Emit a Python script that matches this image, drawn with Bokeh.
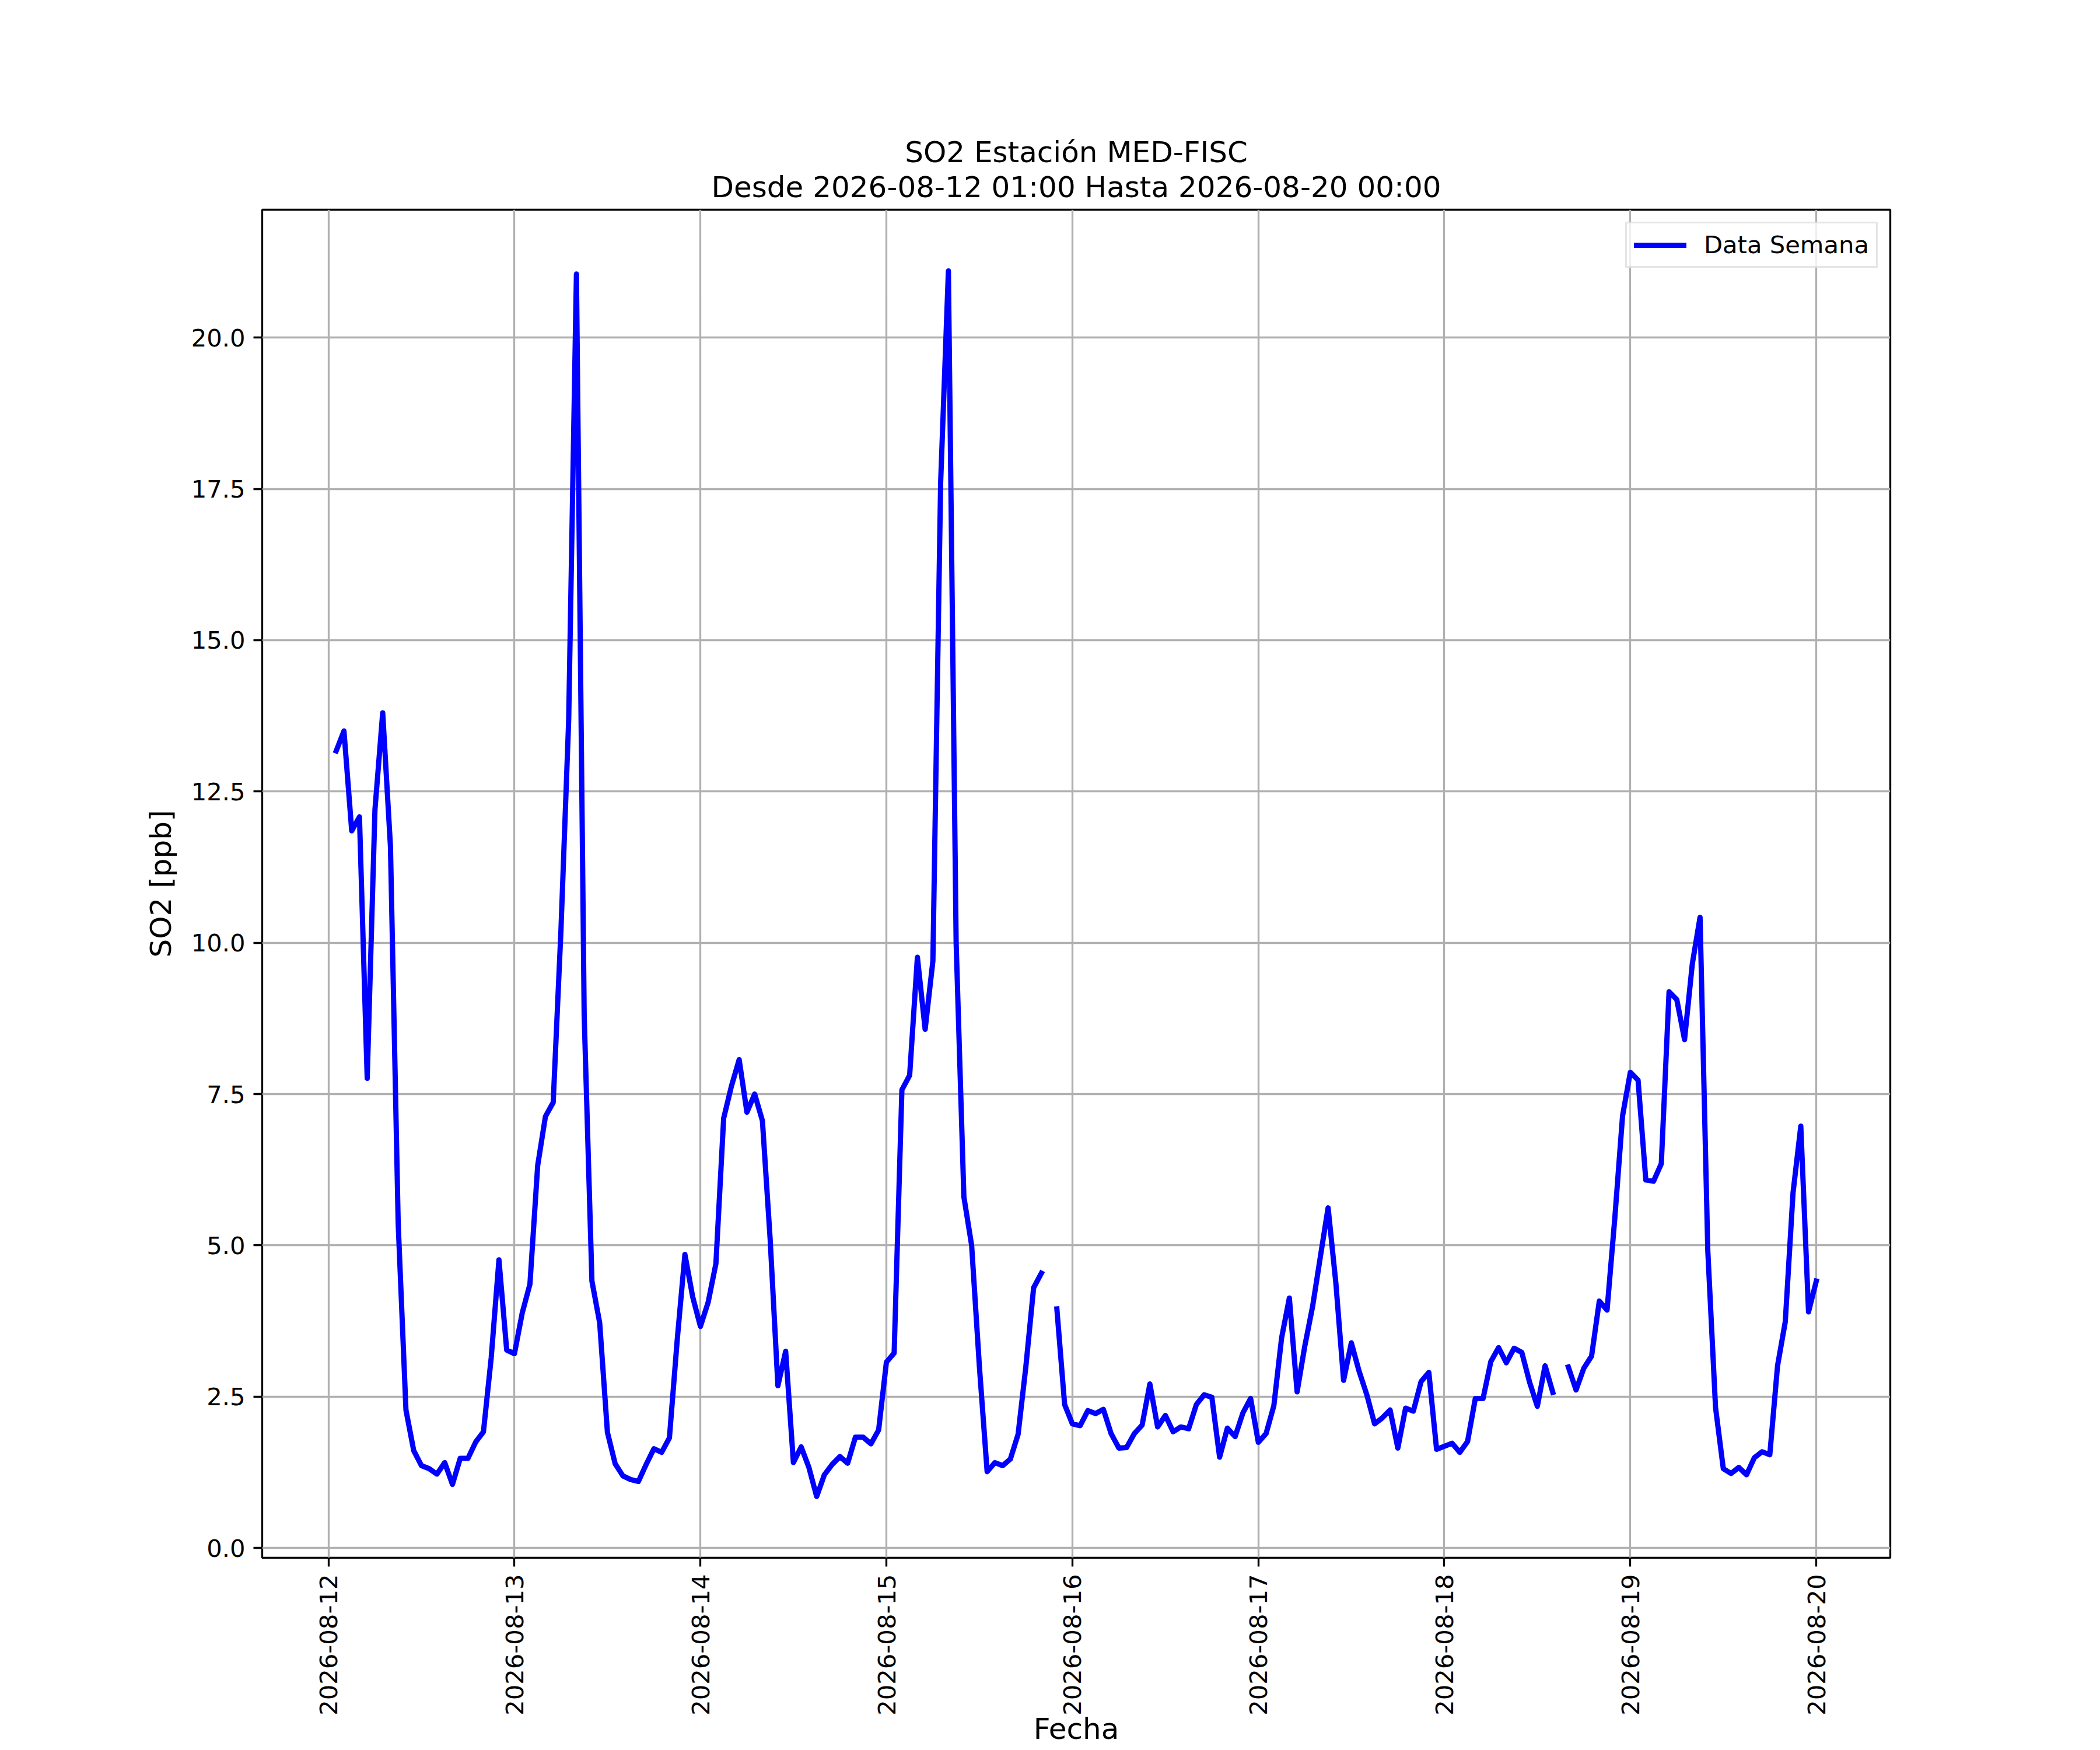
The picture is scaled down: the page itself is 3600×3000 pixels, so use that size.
import math
import numpy as np
import pandas as pd
from bokeh.plotting import figure
from bokeh.models import (FixedTicker, DatetimeTickFormatter, NumeralTickFormatter,
                          Range1d, Title)
from bokeh.embed import file_html
from bokeh.resources import INLINE

# ---- data: hourly SO2 [ppb], from 2026-08-12 01:00 to 2026-08-20 00:00 (None = missing) ----
start_time = "2026-08-12 01:00"
day1 = [13.17, 13.50, 11.85, 12.08, 7.76, 12.2, 13.80, 11.59, 5.35, 2.28, 1.61, 1.36,
        1.31, 1.22, 1.41, 1.05, 1.48, 1.48, 1.75, 1.92, 3.14, 4.76, 3.27, 3.21]
day2 = [3.88, 4.36, 6.32, 7.13, 7.36, 10.2, 13.68, 21.05, 8.8, 4.41, 3.72, 1.91,
        1.39, 1.19, 1.13, 1.10, 1.38, 1.64, 1.58, 1.82, 3.43, 4.85, 4.15, 3.66]
day3 = [4.06, 4.70, 7.10, 7.63, 8.07, 7.20, 7.50, 7.06, 5.1, 2.68, 3.25, 1.41,
        1.67, 1.33, 0.85, 1.21, 1.38, 1.51, 1.40, 1.83, 1.83, 1.72, 1.95, 3.07]
day4 = [3.22, 7.57, 7.81, 9.76, 8.57, 9.7, 17.6, 21.1, 10.0, 5.8, 5.0, 3.0,
        1.26, 1.41, 1.36, 1.47, 1.88, 3.0, 4.30, 4.54, None, 3.95, 2.37, 2.05]
day5 = [2.02, 2.27, 2.22, 2.29, 1.89, 1.65, 1.66, 1.89, 2.03, 2.71, 2.00, 2.19,
        1.92, 2.00, 1.97, 2.37, 2.53, 2.49, 1.50, 1.98, 1.84, 2.23, 2.47, 1.745]
day6 = [1.89, 2.35, 3.47, 4.13, 2.58, 3.34, 3.99, 4.81, 5.62, 4.38, 2.77, 3.39,
        2.92, 2.53, 2.05, 2.15, 2.28, 1.65, 2.31, 2.26, 2.75, 2.90, 1.63, 1.68]
day7 = [1.73, 1.58, 1.76, 2.47, 2.47, 3.08, 3.31, 3.06, 3.30, 3.23, 2.74, 2.34,
        3.01, 2.57, None, 2.99, 2.61, 2.97, 3.17, 4.08, 3.93, 5.45, 7.14, 7.86]
day8 = [7.73, 6.08, 6.06, 6.35, 9.19, 9.06, 8.40, 9.65, 10.42, 4.91, 2.32, 1.31,
        1.23, 1.33, 1.21, 1.49, 1.59, 1.54, 3.01, 3.74, 5.87, 6.97, 3.90, 4.41]

x_tick_dates = ["2026-08-12", "2026-08-13", "2026-08-14", "2026-08-15",
                "2026-08-16", "2026-08-17", "2026-08-18", "2026-08-19", "2026-08-20"]
y_ticks = [0.0, 2.5, 5.0, 7.5, 10.0, 12.5, 15.0, 17.5, 20.0]

title_line1 = "SO2 Estación MED-FISC"
title_line2 = "Desde 2026-08-12 01:00 Hasta 2026-08-20 00:00"
x_label = "Fecha"
y_label = "SO2 [ppb]"
legend_text = "Data Semana"

# ---- build series ----
values = day1 + day2 + day3 + day4 + day5 + day6 + day7 + day8
y = np.array([np.nan if v is None else v for v in values], dtype=float)
times = pd.date_range(start=start_time, periods=len(values), freq="h")
x = times.values

# matplotlib-like 5% margins
t0 = times[0].value / 1e6
t1 = times[-1].value / 1e6
tspan = t1 - t0
ymin, ymax = np.nanmin(y), np.nanmax(y)
yspan = ymax - ymin
xs, xe = t0 - 0.05 * tspan, t1 + 0.05 * tspan
ys, ye = ymin - 0.05 * yspan, ymax + 0.05 * yspan

W, H = 3600, 3000
FL, FT, FR, FB = 449, 359, 3240, 2670     # frame edges in canvas pixels
FONT = "DejaVu Sans"

p = figure(width=W, height=H, x_axis_type="datetime",
           output_backend="svg", toolbar_location=None,
           x_range=Range1d(xs, xe), y_range=Range1d(ys, ye),
           min_border_left=FL, min_border_right=W - FR,
           min_border_top=FT, min_border_bottom=H - FB)
p.title = None

p.background_fill_color = "white"
p.border_fill_color = "white"
p.outline_line_color = "black"
p.outline_line_width = 3.3

p.line(x, y, line_color="#0000ff", line_width=9, line_join="round", line_cap="square",
       legend_label=legend_text)

# ---- title (two centred lines) ----
def make_title(txt, standoff):
    return Title(text=txt, align="center", text_font=FONT, text_font_size="50px",
                 text_font_style="normal", text_color="black", standoff=standoff)

p.add_layout(make_title(title_line2, 19), "above")
p.add_layout(make_title(title_line1, -19), "above")

# ---- axes ----
x_ticks_ms = [pd.Timestamp(d).value / 1e6 for d in x_tick_dates]
xa = p.xaxis[0]
xa.ticker = FixedTicker(ticks=x_ticks_ms)
fmt = "%Y-%m-%d"
xa.formatter = DatetimeTickFormatter(microseconds=fmt, milliseconds=fmt, seconds=fmt,
                                     minsec=fmt, minutes=fmt, hourmin=fmt, hours=fmt,
                                     days=fmt, months=fmt, years=fmt)
xa.major_label_orientation = math.pi / 2
xa.axis_label = x_label
xa.axis_label_standoff = -9

ya = p.yaxis[0]
ya.ticker = FixedTicker(ticks=y_ticks)
ya.formatter = NumeralTickFormatter(format="0.0")
ya.axis_label = y_label
ya.axis_label_standoff = 20

for ax in (xa, ya):
    ax.axis_line_color = None
    ax.major_tick_line_color = "black"
    ax.major_tick_line_width = 3.3
    ax.major_tick_out = 15
    ax.major_tick_in = 0
    ax.minor_tick_line_color = None
    ax.major_label_text_font = FONT
    ax.major_label_text_font_size = "41.7px"
    ax.major_label_text_color = "black"
    ax.axis_label_text_font = FONT
    ax.axis_label_text_font_size = "50px"
    ax.axis_label_text_font_style = "normal"
    ax.axis_label_text_color = "black"
xa.major_label_standoff = 13
ya.major_label_standoff = 14

# ---- grid ----
for g in (p.xgrid[0], p.ygrid[0]):
    g.grid_line_color = "#b0b0b0"
    g.grid_line_width = 3.3

# ---- legend ----
lg = p.legend[0]
lg.location = "top_right"
lg.margin = 21
lg.padding = 12
lg.spacing = 0
lg.glyph_width = 90
lg.glyph_height = 44
lg.label_standoff = 30
lg.label_text_font = FONT
lg.label_text_font_size = "41.7px"
lg.label_text_color = "black"
lg.border_line_color = "#cccccc"
lg.border_line_width = 3.3
lg.background_fill_alpha = 0.8

open("out.html", "w").write(file_html(p, INLINE))
